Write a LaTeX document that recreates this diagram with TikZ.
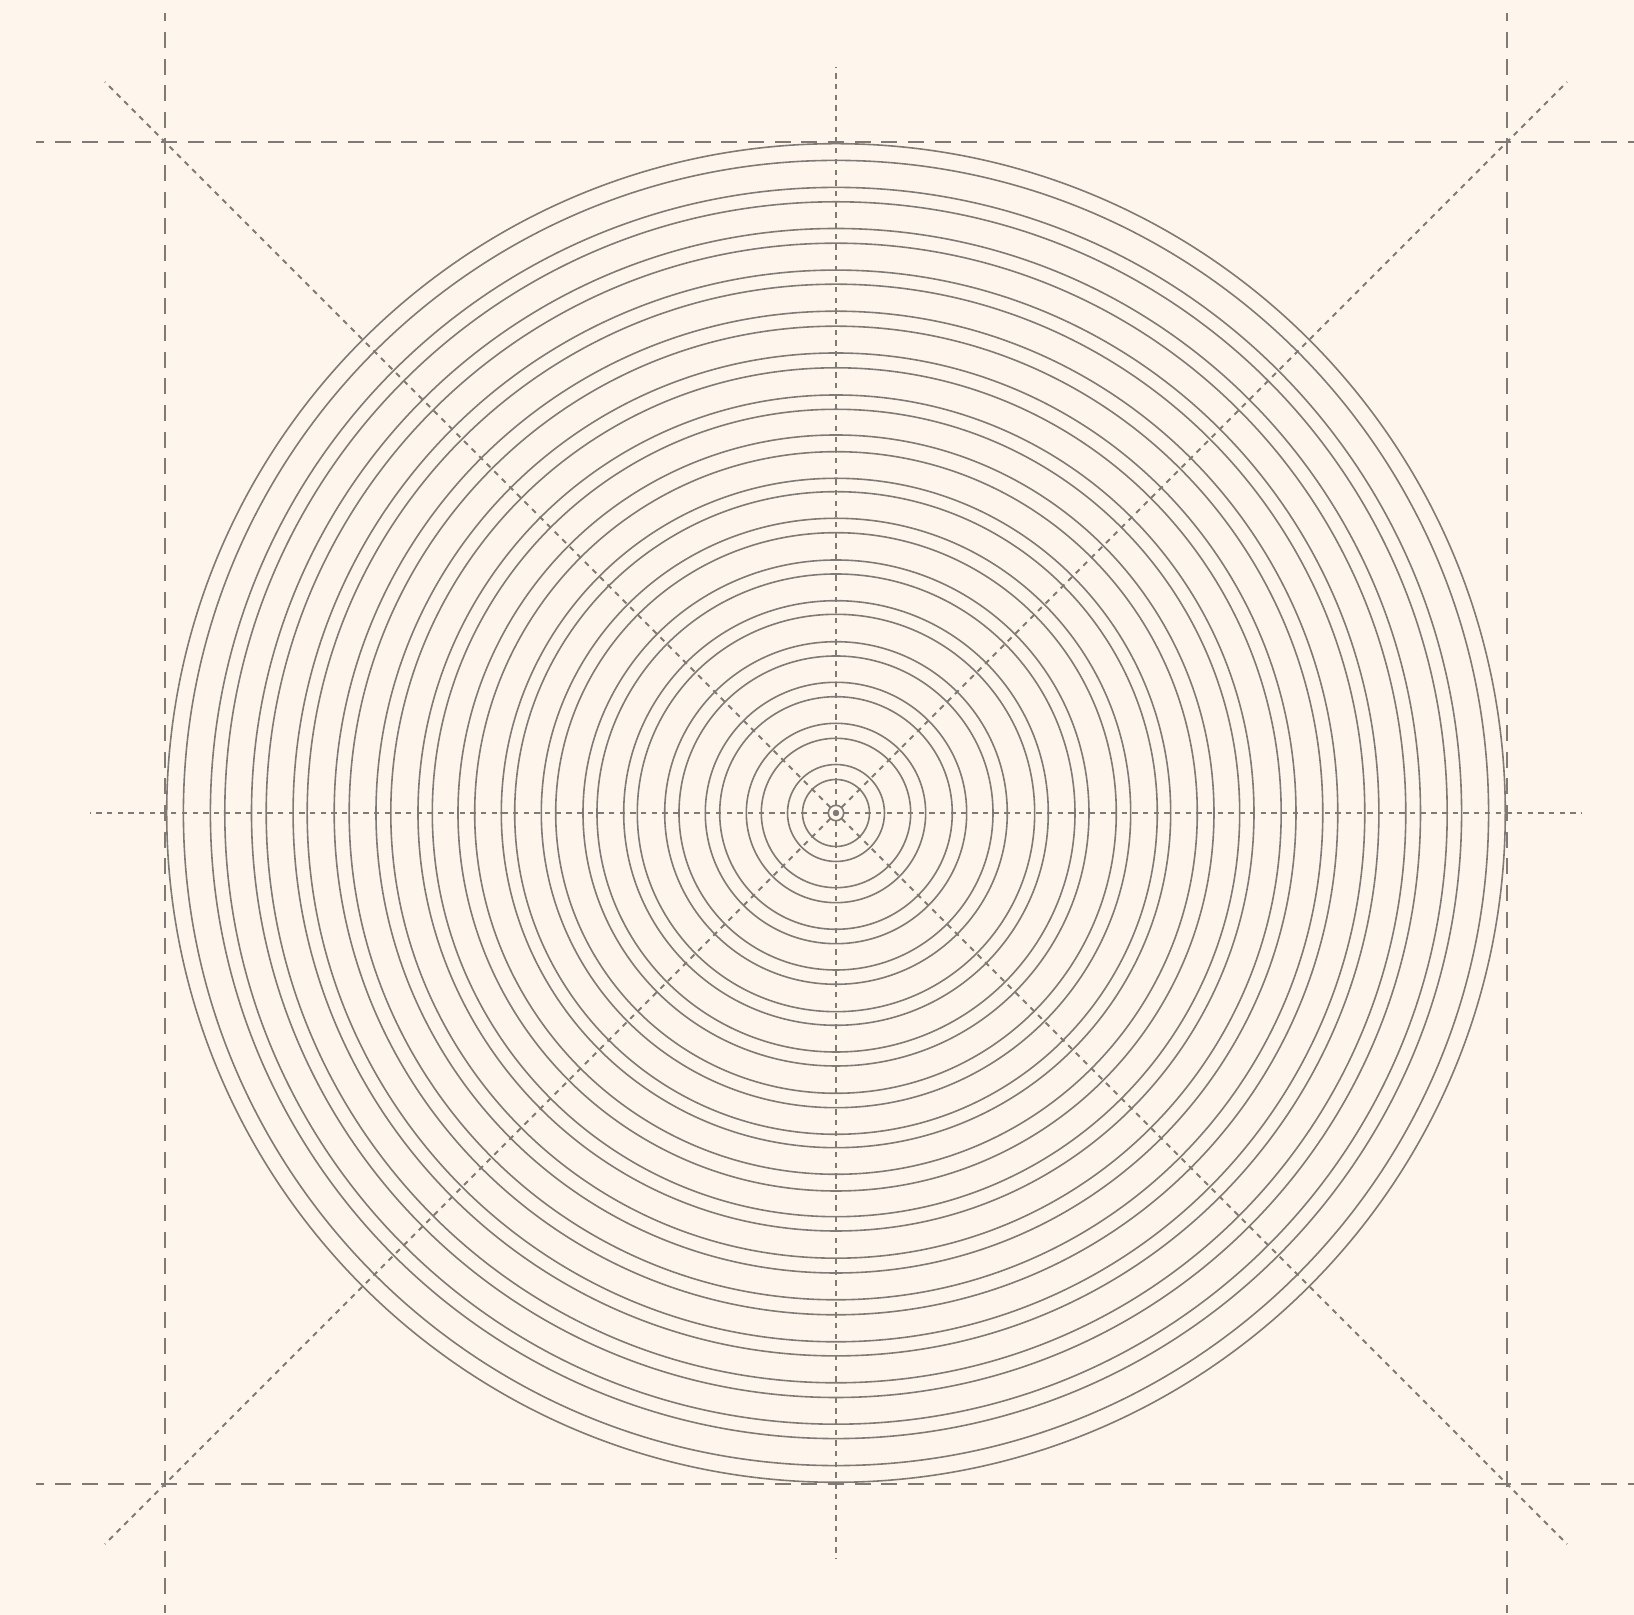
\documentclass[tikz,border=0pt]{standalone}
\definecolor{bgcol}{HTML}{FEF6EC}
\definecolor{ink}{HTML}{7F7A75}
\tikzset{
  ring/.style={draw=ink, line width=0.8pt},
  boxline/.style={draw=ink, line width=1pt, dash pattern=on 8pt off 5.33pt, dash phase=4pt},
  axisline/.style={draw=ink, line width=1pt, dash pattern=on 2.67pt off 2.67pt, dash phase=1.33pt}
}
\begin{document}
\begin{tikzpicture}[x=0.5pt,y=0.5pt]
  % origin = centre of rings; picture 1634x1615 px, centre at (836,813) from top-left
  \fill[bgcol] (-836,-802) rectangle (798,813);
  \useasboundingbox (-836,-802) rectangle (798,813);
  \coordinate (c) at (0,0);
  % dashed square lines (drawn from their midpoints outward)
  \foreach \s in {1,-1}{
    \coordinate (hm\s) at (0,\s*670.7);
    \coordinate (hl\s) at (-800,\s*670.7);
    \coordinate (hr\s) at (800,\s*670.7);
    \draw[boxline] (hm\s) -- (hl\s);
    \draw[boxline] (hm\s) -- (hr\s);
    \coordinate (vm\s) at (\s*670.7,0);
    \coordinate (vt\s) at (\s*670.7,800);
    \coordinate (vb\s) at (\s*670.7,-800);
    \draw[boxline] (vm\s) -- (vt\s);
    \draw[boxline] (vm\s) -- (vb\s);
  }
  % dotted axes and diagonals
  \coordinate (aN) at (0,746);   \coordinate (aS) at (0,-746);
  \coordinate (aW) at (-746,0);  \coordinate (aE) at (746,0);
  \coordinate (dNE) at (731,731);  \coordinate (dSW) at (-731,-731);
  \coordinate (dNW) at (-731,731); \coordinate (dSE) at (731,-731);
  \foreach \p in {aN,aS,aW,aE,dNE,dSW,dNW,dSE}{
    \draw[axisline] (c) -- (\p);
  }
  % concentric rings
  \foreach \r in {33.5,48.5,74.7,89.7,116.3,130.7,157,171.3,198.7,212.3,239,253,280.3,294.7,321.3,334.7,361.3,378,403.7,418,445.2,460,486.8,501.8,528.8,542.9,569.8,584.5,611.2,625.6,652.6,669.3}{
    \draw[ring] (c) circle[radius=\r];
  }
  % centre mark
  \draw[ring] (c) circle[radius=7.7];
  \fill[ink] (c) circle[radius=3.2];
\end{tikzpicture}
\end{document}
